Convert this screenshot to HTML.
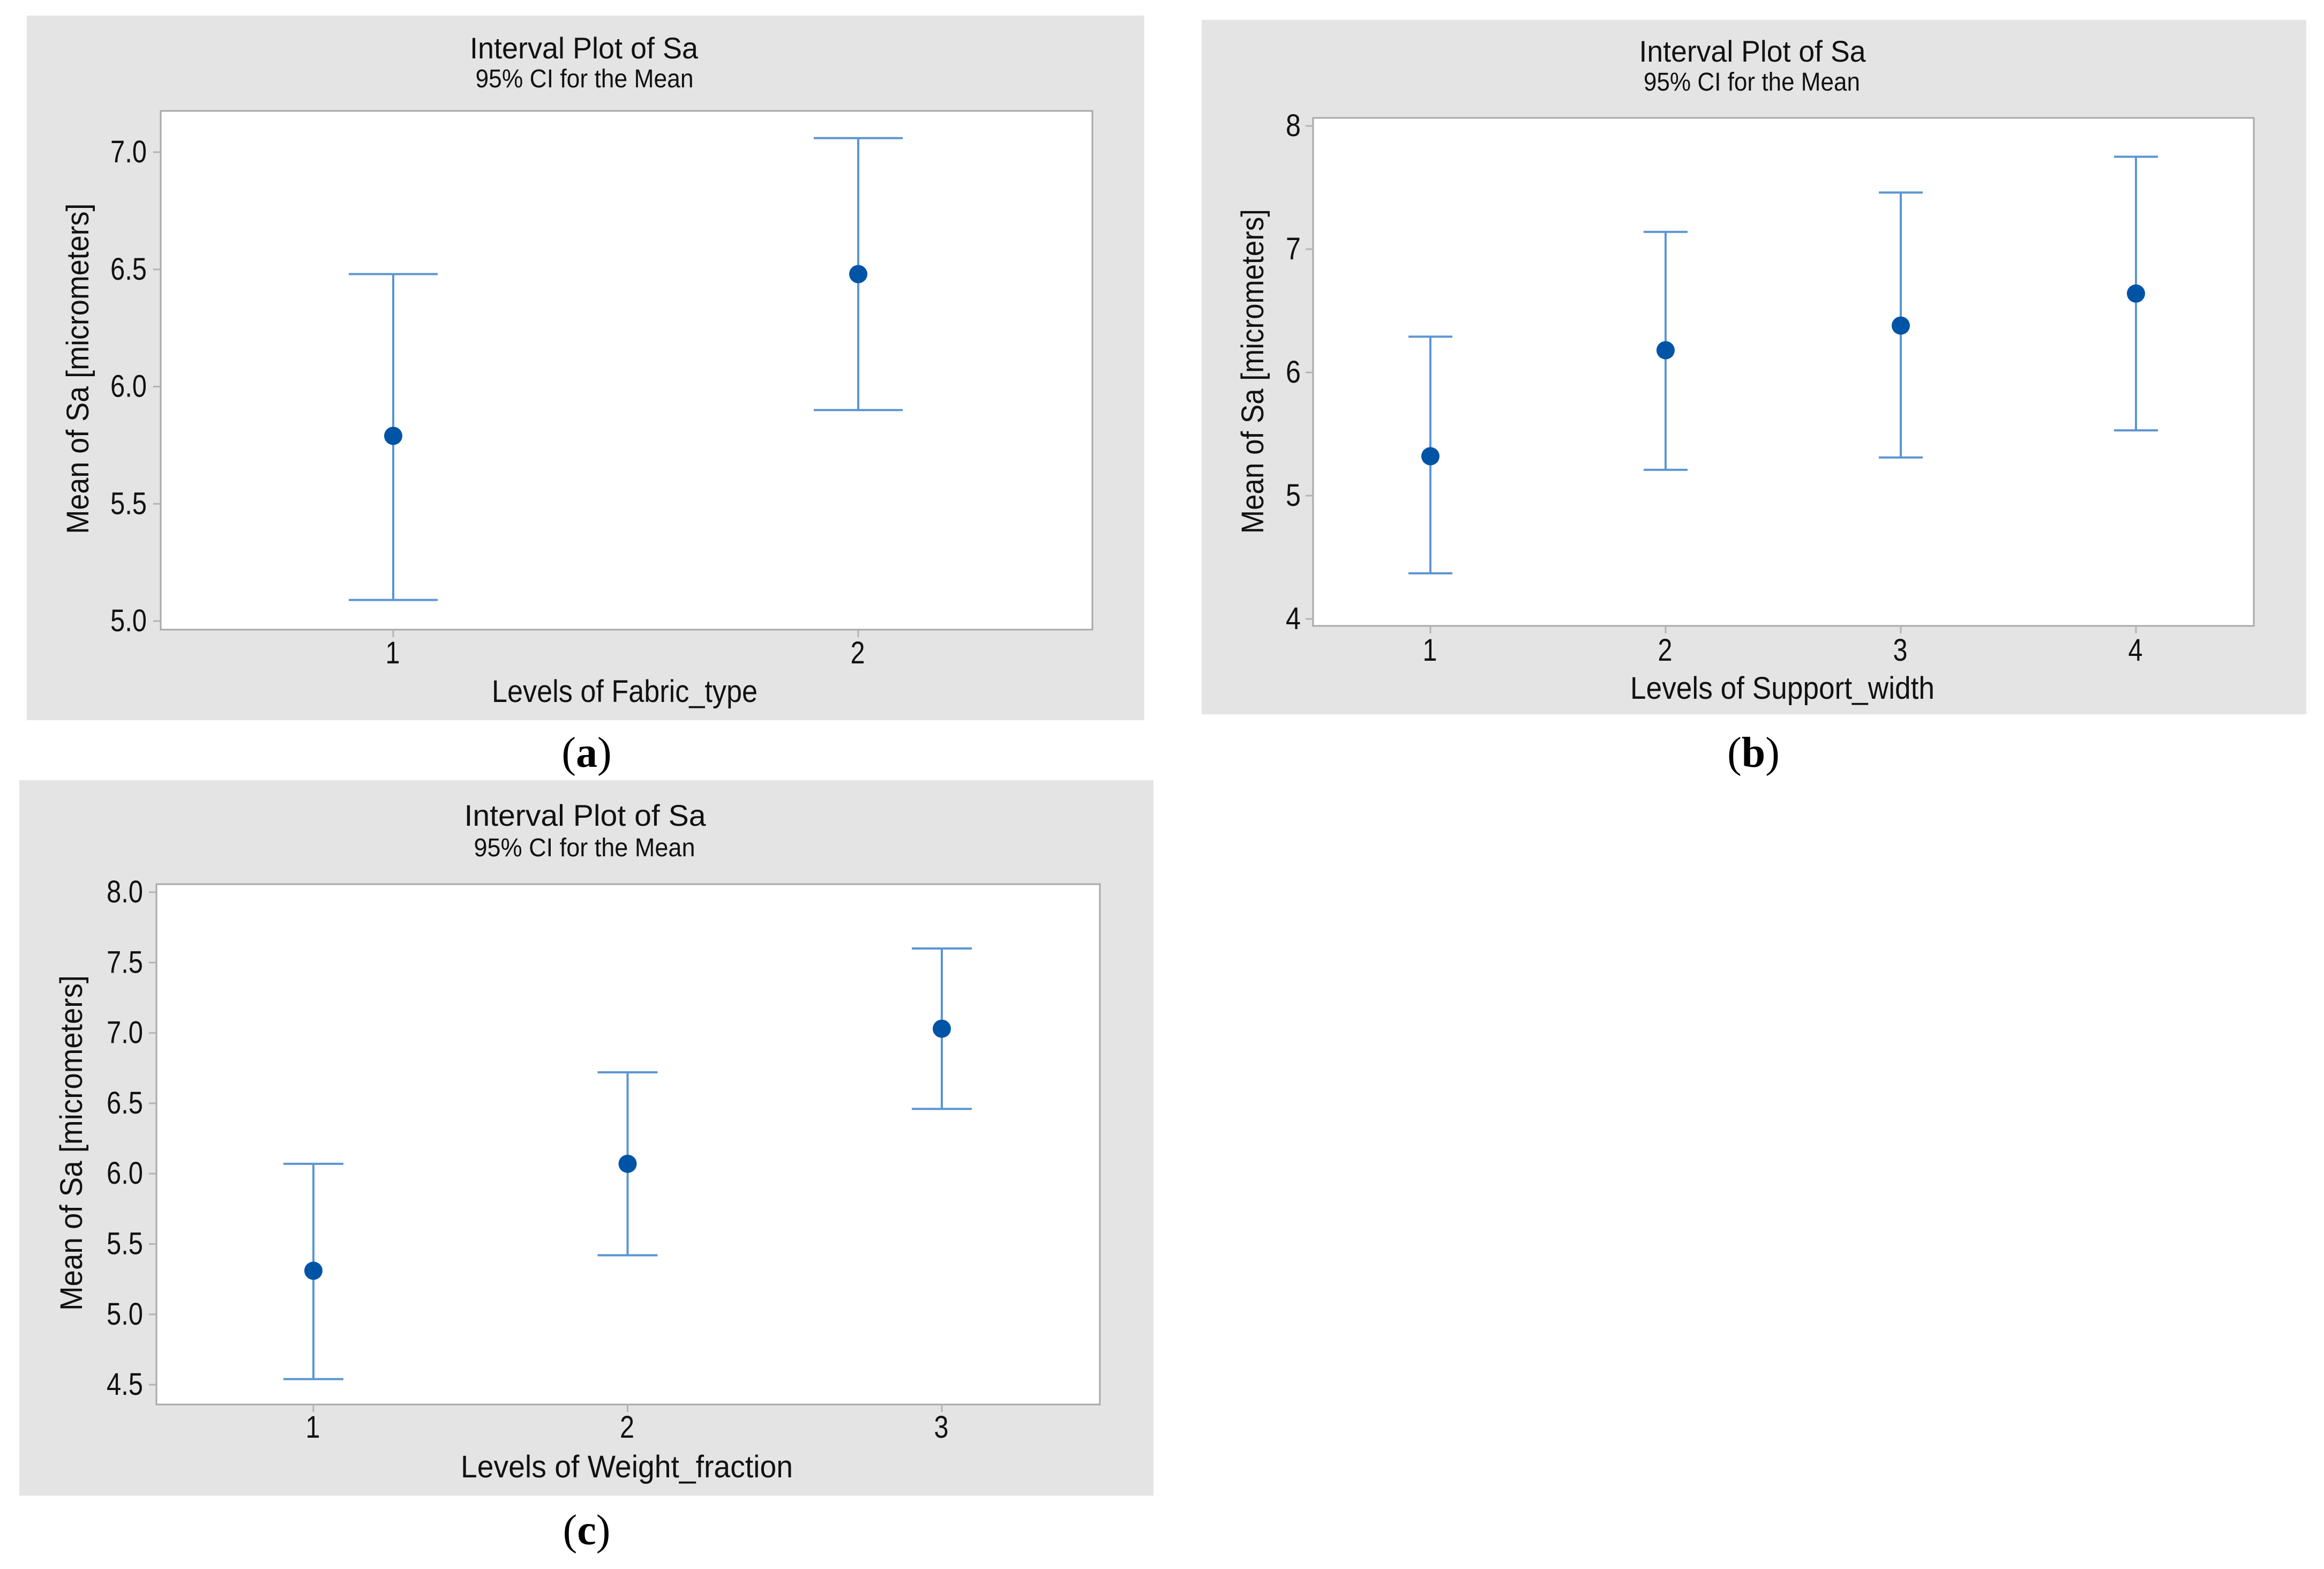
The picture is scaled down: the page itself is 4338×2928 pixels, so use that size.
<!DOCTYPE html>
<html>
<head>
<meta charset="utf-8">
<title>Interval Plots of Sa</title>
<style>
  html, body { margin: 0; padding: 0; background: #ffffff; }
  svg { display: block; }
  text { font-family: "Liberation Sans", sans-serif; fill: #111111; }
  .title { font-size: 56px; text-anchor: middle; }
  .subtitle { font-size: 48px; text-anchor: middle; }
  .axis-title { font-size: 58px; text-anchor: middle; }
  .tick-label { font-size: 58px; }
  .caption { font-family: "Liberation Serif", serif; font-size: 80px; text-anchor: middle; fill: #000000; }
  .caption tspan { font-weight: bold; }
</style>
</head>
<body>
<svg id="figure" xmlns="http://www.w3.org/2000/svg" width="4338" height="2928" viewBox="0 0 4338 2928">
  <rect width="4338" height="2928" fill="#ffffff"/>

  <g id="chart-a">
    <rect x="50" y="29" width="2086" height="1315" fill="#e4e4e4"/>
    <rect x="300" y="207" width="1739" height="968" fill="#ffffff" stroke="#a8a8a8" stroke-width="3"/>
    <text class="title" x="1090" y="109" textLength="426" lengthAdjust="spacingAndGlyphs">Interval Plot of Sa</text>
    <text class="subtitle" x="1091" y="163" textLength="407" lengthAdjust="spacingAndGlyphs">95% CI for the Mean</text>
    <text class="axis-title" transform="translate(165 688) rotate(-90)" textLength="617" lengthAdjust="spacingAndGlyphs">Mean of Sa [micrometers]</text>
    <text class="axis-title" x="1166" y="1310" textLength="496" lengthAdjust="spacingAndGlyphs">Levels of Fabric_type</text>
  </g>

  <g id="chart-b">
    <rect x="2243" y="37" width="2062" height="1296" fill="#e4e4e4"/>
    <rect x="2451" y="220" width="1756" height="948" fill="#ffffff" stroke="#a8a8a8" stroke-width="3"/>
    <text class="title" x="3271" y="115" textLength="423" lengthAdjust="spacingAndGlyphs">Interval Plot of Sa</text>
    <text class="subtitle" x="3270" y="169" textLength="404" lengthAdjust="spacingAndGlyphs">95% CI for the Mean</text>
    <text class="axis-title" transform="translate(2358 693) rotate(-90)" textLength="606" lengthAdjust="spacingAndGlyphs">Mean of Sa [micrometers]</text>
    <text class="axis-title" x="3327" y="1304" textLength="568" lengthAdjust="spacingAndGlyphs">Levels of Support_width</text>
  </g>

  <g id="chart-c">
    <rect x="36" y="1456" width="2117" height="1335" fill="#e4e4e4"/>
    <rect x="292" y="1650" width="1761" height="971" fill="#ffffff" stroke="#a8a8a8" stroke-width="3"/>
    <text class="title" x="1092" y="1541" textLength="451" lengthAdjust="spacingAndGlyphs">Interval Plot of Sa</text>
    <text class="subtitle" x="1091" y="1598" textLength="413" lengthAdjust="spacingAndGlyphs">95% CI for the Mean</text>
    <text class="axis-title" transform="translate(153 2133) rotate(-90)" textLength="626" lengthAdjust="spacingAndGlyphs">Mean of Sa [micrometers]</text>
    <text class="axis-title" x="1170" y="2757" textLength="620" lengthAdjust="spacingAndGlyphs">Levels of Weight_fraction</text>
  </g>

  <text class="caption" x="1095" y="1431">(<tspan>a</tspan>)</text>
  <text class="caption" x="3273" y="1431">(<tspan>b</tspan>)</text>
  <text class="caption" x="1095" y="2882">(<tspan>c</tspan>)</text>
</svg>

<script>
// Chart (a) data: Fabric_type
const fabricCategories = ['1', '2'];
const fabricMeans = [5.79, 6.48];
const fabricUpper = [6.48, 7.06];
const fabricLower = [5.09, 5.90];
const fabricTicks = ['5.0', '5.5', '6.0', '6.5', '7.0'];

// Chart (b) data: Support_width
const supportCategories = ['1', '2', '3', '4'];
const supportMeans = [5.32, 6.18, 6.38, 6.64];
const supportUpper = [6.29, 7.14, 7.46, 7.75];
const supportLower = [4.37, 5.21, 5.31, 5.53];
const supportTicks = ['4', '5', '6', '7', '8'];

// Chart (c) data: Weight_fraction
const weightCategories = ['1', '2', '3'];
const weightMeans = [5.31, 6.07, 7.03];
const weightUpper = [6.07, 6.72, 7.60];
const weightLower = [4.54, 5.42, 6.46];
const weightTicks = ['4.5', '5.0', '5.5', '6.0', '6.5', '7.0', '7.5', '8.0'];

const SVG_NS = 'http://www.w3.org/2000/svg';

function mk(parent, tag, props) {
  const el = document.createElementNS(SVG_NS, tag);
  for (const key in props) {
    el.setAttribute(key, props[key]);
  }
  parent.appendChild(el);
  return el;
}

function drawChart(cfg) {
  const root = document.getElementById(cfg.id);
  const yScale = v => cfg.yAt8 + (8 - v) * cfg.pxPerUnit;
  const xScale = i => cfg.x0 + i * cfg.xStep;

  cfg.ticks.forEach(label => {
    const py = yScale(parseFloat(label));
    const tick = mk(root, 'line', { x1: cfg.plotLeft - 14, x2: cfg.plotLeft, y1: py, y2: py, stroke: '#b4b4b4', 'stroke-width': 3 });
    
    
    const text = mk(root, 'text', { class: 'tick-label', x: cfg.tickRight, y: py + 19, 'text-anchor': 'end', textLength: label.length === 1 ? 28 : 68, lengthAdjust: 'spacingAndGlyphs' });
    text.textContent = label;
    
    
  });

  cfg.categories.forEach((label, i) => {
    const px = xScale(i);
    const tick = mk(root, 'line', { x1: px, x2: px, y1: cfg.plotBottom, y2: cfg.plotBottom + 14, stroke: '#b4b4b4', 'stroke-width': 3 });
    
    
    const text = mk(root, 'text', { class: 'tick-label', x: px - 1, y: cfg.xLabelY, 'text-anchor': 'middle', textLength: 27, lengthAdjust: 'spacingAndGlyphs' });
    text.textContent = label;
    
    

    const yHi = yScale(cfg.upper[i]);
    const yLo = yScale(cfg.lower[i]);
    const yMean = yScale(cfg.means[i]);

    const stem = mk(root, 'line', { x1: px, x2: px, y1: yHi, y2: yLo, stroke: '#5b95d2', 'stroke-width': 4 });
    
    

    const capTop = mk(root, 'line', { x1: px - cfg.capHalf, x2: px + cfg.capHalf, y1: yHi, y2: yHi, stroke: '#5b95d2', 'stroke-width': 4 });
    
    

    const capBottom = mk(root, 'line', { x1: px - cfg.capHalf, x2: px + cfg.capHalf, y1: yLo, y2: yLo, stroke: '#5b95d2', 'stroke-width': 4 });
    
    

    const dot = mk(root, 'circle', { cx: px, cy: yMean, r: 17, fill: '#0054a6' });
    
    
  });
}

drawChart({
  id: 'chart-a', categories: fabricCategories, means: fabricMeans, upper: fabricUpper, lower: fabricLower, ticks: fabricTicks,
  yAt8: -153.5, pxPerUnit: 437.5, x0: 734, xStep: 868, capHalf: 83,
  plotLeft: 300, plotBottom: 1175, tickRight: 274, xLabelY: 1238
});
drawChart({
  id: 'chart-b', categories: supportCategories, means: supportMeans, upper: supportUpper, lower: supportLower, ticks: supportTicks,
  yAt8: 235, pxPerUnit: 230, x0: 2670, xStep: 439, capHalf: 41,
  plotLeft: 2451, plotBottom: 1168, tickRight: 2428, xLabelY: 1233
});
drawChart({
  id: 'chart-c', categories: weightCategories, means: weightMeans, upper: weightUpper, lower: weightLower, ticks: weightTicks,
  yAt8: 1665, pxPerUnit: 262.6, x0: 585, xStep: 586.5, capHalf: 56,
  plotLeft: 292, plotBottom: 2621, tickRight: 267, xLabelY: 2683
});
</script>
</body>
</html>
